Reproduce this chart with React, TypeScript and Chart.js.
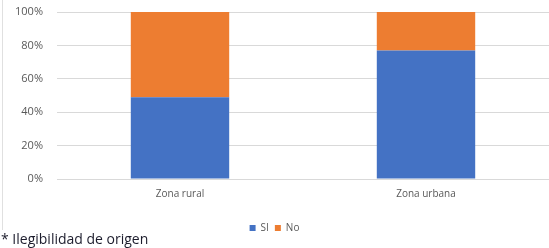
import React, { useEffect, useRef } from "react";
import { Chart, registerables } from "chart.js";

Chart.register(...registerables);

const categories = ["Zona rural", "Zona urbana"];
const siValues = [49, 77];
const noValues = [51, 23];
const yTicks = [0, 20, 40, 60, 80, 100];
const footnote = "* Ilegibilidad de origen";

export default function App() {
  const ref = useRef<HTMLCanvasElement | null>(null);
  useEffect(() => {
    if (!ref.current) return;
    const font = "'Open Sans', 'Liberation Sans', sans-serif";
    const chart = new Chart(ref.current, {
      type: "bar",
      data: {
        labels: categories,
        datasets: [
          { label: "SI", data: siValues, backgroundColor: "#4472C4", categoryPercentage: 0.8, barPercentage: 0.5 },
          { label: "No", data: noValues, backgroundColor: "#ED7D31", categoryPercentage: 0.8, barPercentage: 0.5 },
        ],
      },
      options: {
        animation: false,
        responsive: false,
        layout: { padding: { top: 12, left: 0, right: 0, bottom: 4 } },
        plugins: {
          tooltip: { enabled: false },
          legend: {
            position: "bottom",
            labels: {
              boxWidth: 6,
              boxHeight: 6,
              padding: 6,
              color: "#595959",
              font: { family: font, size: 10 },
            },
          },
        },
        scales: {
          x: {
            stacked: true,
            afterFit: (s: any) => { s.height = 38; s.paddingLeft = 0; s.paddingRight = 0; },
            grid: { display: false, drawTicks: false },
            border: { display: false },
            ticks: { color: "#595959", padding: 9, font: { family: font, size: 10 } },
          },
          y: {
            stacked: true,
            min: 0,
            max: 100,
            afterFit: (s: any) => { s.width = 57; s.paddingTop = 0; s.paddingBottom = 0; },
            afterBuildTicks: (s: any) => { s.ticks = yTicks.map((v) => ({ value: v })); },
            grid: { color: "#d9d9d9", drawTicks: false },
            border: { display: false },
            ticks: {
              color: "#595959",
              padding: 14,
              font: { family: font, size: 11 },
              callback: (v: any) => v + "%",
            },
          },
        },
      },
    });
    return () => chart.destroy();
  }, []);
  return (
    <div style={{ position: "absolute", left: 0, top: 0, width: 549, height: 248, background: "#fff" }}>
      <div style={{ position: "absolute", left: 2, top: 0, width: 1, height: 230, background: "#e0e0e0" }} />
      <canvas ref={ref} width={549} height={247} style={{ position: "absolute", left: 0, top: 0 }} />
      <div
        style={{
          position: "absolute",
          left: 1,
          top: 229,
          fontFamily: "'Open Sans', sans-serif",
          fontSize: 14,
          color: "#1c1c2c",
          whiteSpace: "nowrap",
        }}
      >
        {footnote}
      </div>
    </div>
  );
}
